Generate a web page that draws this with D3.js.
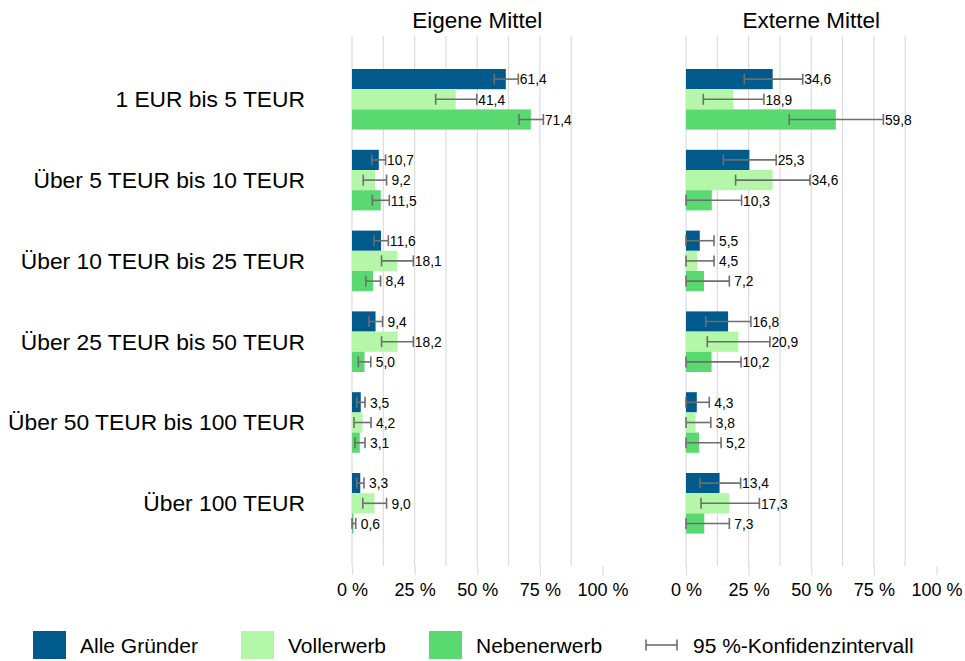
<!DOCTYPE html>
<html>
<head>
<meta charset="utf-8">
<script src="https://cdn.jsdelivr.net/npm/d3@7"></script>
<style>
  body { margin: 0; background: #fff; }
  svg { display: block; font-family: "Liberation Sans", Arial, sans-serif; }
</style>
</head>
<body>
<svg id="chart" width="965" height="661"></svg>
<script>
'use strict'

// categories (rows) and series
const categories = [
  '1 EUR bis 5 TEUR',
  'Über 5 TEUR bis 10 TEUR',
  'Über 10 TEUR bis 25 TEUR',
  'Über 25 TEUR bis 50 TEUR',
  'Über 50 TEUR bis 100 TEUR',
  'Über 100 TEUR'
]
const seriesNames = ['Alle Gründer', 'Vollerwerb', 'Nebenerwerb']
const seriesColors = ['#005a8c', '#b5f7a8', '#59d96f']
const panelTitles = ['Eigene Mittel', 'Externe Mittel']
const tickValues = [0, 25, 50, 75, 100]

// Eigene Mittel
const eigeneAlle = [61.4, 10.7, 11.6, 9.4, 3.5, 3.3]
const eigeneVoll = [41.4, 9.2, 18.1, 18.2, 4.2, 9.0]
const eigeneNeben = [71.4, 11.5, 8.4, 5.0, 3.1, 0.6]
const eigeneAlleCI = [[56.8, 66.4], [7.9, 13.4], [8.8, 14.5], [6.8, 12.2], [1.9, 5.2], [1.9, 4.8]]
const eigeneVollCI = [[33.4, 49.8], [4.5, 13.8], [11.8, 24.5], [11.8, 24.5], [0.8, 7.6], [4.3, 13.8]]
const eigeneNebenCI = [[66.7, 76.4], [8.1, 14.9], [5.5, 11.4], [2.5, 7.5], [1.2, 5.2], [0, 1.5]]

// Externe Mittel
const externeAlle = [34.6, 25.3, 5.5, 16.8, 4.3, 13.4]
const externeVoll = [18.9, 34.6, 4.5, 20.9, 3.8, 17.3]
const externeNeben = [59.8, 10.3, 7.2, 10.2, 5.2, 7.3]
const externeAlleCI = [[23.3, 46.6], [14.9, 36.0], [0, 11.2], [7.9, 25.9], [0, 9.3], [5.6, 21.8]]
const externeVollCI = [[6.9, 31.1], [19.8, 49.5], [0, 11.2], [8.5, 33.5], [0, 9.9], [6.0, 29.3]]
const externeNebenCI = [[41.2, 78.8], [0, 22.2], [0, 17.3], [0, 22.0], [0, 14.0], [0, 17.3]]

const panels = [
  { title: panelTitles[0], x0: 352, values: [eigeneAlle, eigeneVoll, eigeneNeben], cis: [eigeneAlleCI, eigeneVollCI, eigeneNebenCI] },
  { title: panelTitles[1], x0: 686, values: [externeAlle, externeVoll, externeNeben], cis: [externeAlleCI, externeVollCI, externeNebenCI] }
]

const svg = d3.select('#chart')
const plotTop = 36
const plotBottom = 566
const panelWidth = 250.5
const ciColor = '#6e6e6e'
const fmt = v => d3.format('.1f')(v).replace('.', ',')

const y = d3.scaleBand().domain(categories).range([58.9, 543.7]).paddingInner(0.25).paddingOuter(0.125)
const ySub = d3.scaleBand().domain(seriesNames).range([0, y.bandwidth()])

// category labels
svg.append('g').attr('class', 'cats')
  .selectAll('text')
  .data(categories)
  .enter().append('text')
  .attr('x', 305)
  .attr('y', d => y(d) + y.bandwidth() / 2)
  .attr('dy', '0.35em')
  .attr('text-anchor', 'end')
  .attr('font-size', 22.8)
  .attr('fill', '#000')
  .text(d => d)

panels.forEach(p => {
  const x = d3.scaleLinear().domain([0, 100]).range([0, panelWidth])
  const g = svg.append('g').attr('transform', `translate(${p.x0},0)`)

  // grid lines every 12,5 %
  g.append('g').attr('class', 'grid')
    .selectAll('line')
    .data(d3.range(0, 100, 12.5))
    .enter().append('line')
    .attr('x1', d => x(d)).attr('x2', d => x(d))
    .attr('y1', plotTop).attr('y2', plotBottom)
    .attr('stroke', '#dcdcdc')
    .attr('stroke-width', 1.2)

  // axis
  const axis = g.append('g')
    .attr('transform', `translate(0,${plotBottom})`)
    .call(d3.axisBottom(x).tickValues(tickValues).tickSize(9).tickPadding(8).tickFormat(d => d + ' %'))
  axis.select('.domain').remove()
  axis.selectAll('.tick line').attr('stroke', '#dcdcdc').attr('stroke-width', 1.2)
  axis.selectAll('.tick text').attr('font-size', 18).attr('fill', '#000')
    .attr('font-family', '"Liberation Sans", Arial, sans-serif')

  // title
  g.append('text')
    .attr('x', panelWidth / 2)
    .attr('y', 28)
    .attr('text-anchor', 'middle')
    .attr('font-size', 22.5)
    .attr('fill', '#000')
    .text(p.title)

  const rows = []
  categories.forEach((c, i) => {
    seriesNames.forEach((s, j) => {
      rows.push({ cat: c, series: s, color: seriesColors[j], value: p.values[j][i], ci: p.cis[j][i] })
    })
  })

  const bars = g.append('g').attr('class', 'bars')
    .selectAll('g.bar')
    .data(rows)
    .enter().append('g')
    .attr('class', 'bar')
    .attr('transform', d => `translate(0,${y(d.cat) + ySub(d.series)})`)

  const bh = ySub.bandwidth()

  bars.append('rect')
    .attr('x', 0)
    .attr('y', 0)
    .attr('width', d => x(d.value))
    .attr('height', bh)
    .attr('fill', d => d.color)

  // confidence intervals
  bars.append('line')
    .attr('x1', d => x(d.ci[0])).attr('x2', d => x(d.ci[1]))
    .attr('y1', bh / 2).attr('y2', bh / 2)
    .attr('stroke', ciColor).attr('stroke-width', 1.6)
  bars.selectAll('line.cap')
    .data(d => d.ci)
    .enter().append('line')
    .attr('class', 'cap')
    .attr('x1', d => x(d)).attr('x2', d => x(d))
    .attr('y1', bh / 2 - 5.5).attr('y2', bh / 2 + 5.5)
    .attr('stroke', ciColor).attr('stroke-width', 1.6)

  // value labels
  bars.append('text')
    .attr('x', d => x(d.ci[1]) + (d.value < 10 ? 5 : 1.5))
    .attr('y', bh / 2 + 0.5)
    .attr('dy', '0.35em')
    .attr('font-size', 13.8)
    .attr('fill', '#000')
    .text(d => fmt(d.value))
})

// legend
const legendItems = [
  { label: seriesNames[0], color: seriesColors[0], x: 33 },
  { label: seriesNames[1], color: seriesColors[1], x: 241 },
  { label: seriesNames[2], color: seriesColors[2], x: 429 }
]
const legend = svg.append('g').attr('class', 'legend')
const items = legend.selectAll('g.item')
  .data(legendItems)
  .enter().append('g')
  .attr('class', 'item')
  .attr('transform', d => `translate(${d.x},0)`)
items.append('rect')
  .attr('x', 0).attr('y', 631)
  .attr('width', 33).attr('height', 28)
  .attr('fill', d => d.color)
items.append('text')
  .attr('x', 47).attr('y', 653)
  .attr('font-size', 21)
  .attr('fill', '#000')
  .text(d => d.label)

const ciLegend = legend.append('g').attr('transform', 'translate(646,645)')
ciLegend.append('line').attr('x1', 0).attr('x2', 31).attr('y1', 0).attr('y2', 0)
  .attr('stroke', ciColor).attr('stroke-width', 1.6)
ciLegend.selectAll('line.cap')
  .data([0, 31])
  .enter().append('line')
  .attr('class', 'cap')
  .attr('x1', d => d).attr('x2', d => d)
  .attr('y1', -5.5).attr('y2', 5.5)
  .attr('stroke', ciColor).attr('stroke-width', 1.6)
legend.append('text')
  .attr('x', 693).attr('y', 653)
  .attr('font-size', 21)
  .attr('fill', '#000')
  .text('95 %-Konfidenzintervall')
</script>
</body>
</html>
